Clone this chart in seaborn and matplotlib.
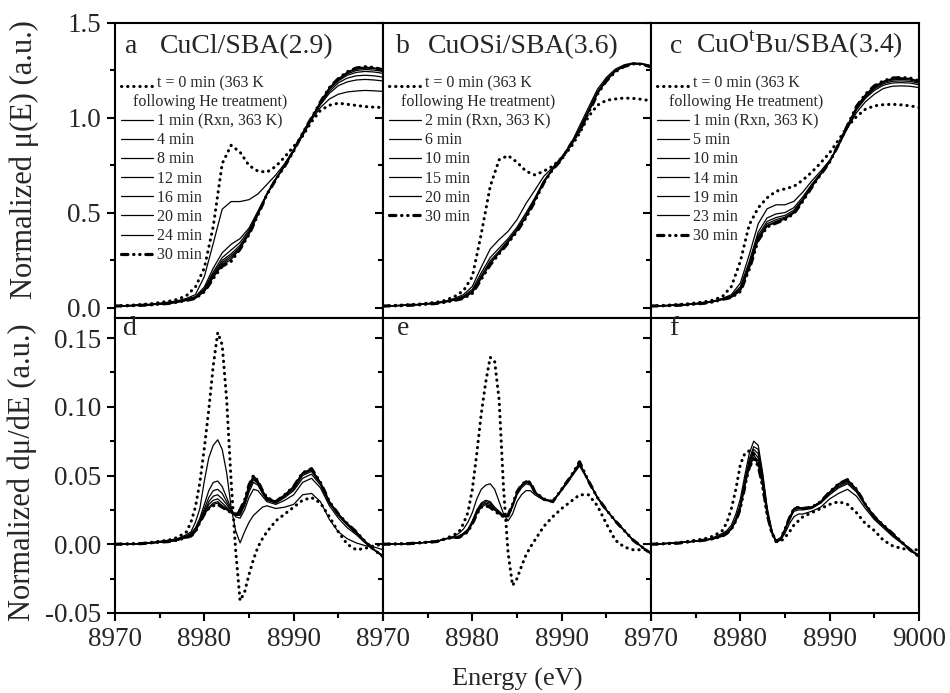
import numpy as np
import matplotlib.pyplot as plt
import seaborn as sns

# energy grids (eV)
E_top = [8970, 8972, 8974, 8976, 8977, 8978, 8979, 8980, 8981, 8982, 8983, 8984, 8985, 8986,
         8987, 8988, 8989, 8990, 8991, 8992, 8993, 8994, 8995, 8996, 8997, 8998, 8999, 9000]
E_der = [8970, 8973, 8976, 8977, 8978, 8978.5, 8979, 8979.5, 8980, 8980.5, 8981, 8981.5, 8982,
         8982.5, 8983, 8983.5, 8984, 8984.5, 8985, 8985.5, 8986, 8986.5, 8987, 8988, 8989, 8990,
         8991, 8992, 8993, 8994, 8995, 8996, 8997, 8998, 8999, 9000]

T0_LABEL = 't = 0 min (363 K\nfollowing He treatment)'
a_labels = [T0_LABEL, '1 min (Rxn, 363 K)', '4 min', '8 min', '12 min', '16 min', '20 min', '24 min', '30 min']
b_labels = [T0_LABEL, '2 min (Rxn, 363 K)', '6 min', '10 min', '15 min', '20 min', '30 min']
c_labels = [T0_LABEL, '1 min (Rxn, 363 K)', '5 min', '10 min', '14 min', '19 min', '23 min', '30 min']

# ---- panel a : CuCl/SBA, normalized mu(E)
a_mu_t0 = [0.010, 0.015, 0.022, 0.035, 0.045, 0.065, 0.110, 0.210, 0.430, 0.760, 0.856, 0.820, 0.750, 0.720,
           0.715, 0.745, 0.795, 0.850, 0.905, 0.980, 1.040, 1.067, 1.078, 1.072, 1.066, 1.060, 1.057, 1.055]
a_mu_1 = [0.010, 0.014, 0.020, 0.030, 0.038, 0.050, 0.070, 0.165, 0.340, 0.520, 0.560, 0.560, 0.570, 0.600,
          0.650, 0.700, 0.760, 0.835, 0.905, 0.990, 1.055, 1.100, 1.125, 1.137, 1.142, 1.145, 1.143, 1.140]
a_mu_4 = [0.010, 0.013, 0.018, 0.027, 0.034, 0.045, 0.060, 0.110, 0.210, 0.290, 0.335, 0.365, 0.420, 0.510,
          0.600, 0.680, 0.750, 0.830, 0.915, 0.995, 1.070, 1.130, 1.170, 1.190, 1.200, 1.203, 1.200, 1.195]
a_mu_8 = [0.010, 0.013, 0.018, 0.026, 0.033, 0.043, 0.056, 0.100, 0.190, 0.265, 0.305, 0.345, 0.410, 0.500,
          0.600, 0.680, 0.750, 0.830, 0.918, 1.000, 1.076, 1.140, 1.185, 1.210, 1.222, 1.225, 1.222, 1.215]
a_mu_12 = [0.010, 0.013, 0.017, 0.025, 0.032, 0.042, 0.054, 0.095, 0.180, 0.250, 0.285, 0.330, 0.400, 0.500,
           0.600, 0.680, 0.750, 0.828, 0.920, 1.000, 1.080, 1.150, 1.195, 1.225, 1.240, 1.245, 1.242, 1.235]
a_mu_16 = [0.010, 0.012, 0.017, 0.025, 0.031, 0.041, 0.053, 0.090, 0.172, 0.240, 0.275, 0.320, 0.395, 0.495,
           0.598, 0.678, 0.749, 0.827, 0.920, 1.000, 1.082, 1.155, 1.200, 1.232, 1.250, 1.255, 1.252, 1.245]
a_mu_20 = [0.010, 0.012, 0.017, 0.024, 0.031, 0.040, 0.052, 0.088, 0.165, 0.232, 0.265, 0.315, 0.390, 0.492,
           0.597, 0.677, 0.748, 0.826, 0.920, 1.000, 1.083, 1.158, 1.204, 1.238, 1.258, 1.262, 1.260, 1.250]
a_mu_24 = [0.010, 0.012, 0.016, 0.024, 0.030, 0.040, 0.051, 0.086, 0.160, 0.225, 0.255, 0.312, 0.388, 0.490,
           0.597, 0.676, 0.747, 0.826, 0.920, 1.000, 1.084, 1.160, 1.206, 1.242, 1.262, 1.268, 1.264, 1.252]
a_mu_30 = [0.010, 0.012, 0.016, 0.024, 0.030, 0.040, 0.050, 0.085, 0.155, 0.220, 0.245, 0.310, 0.386, 0.490,
           0.597, 0.676, 0.747, 0.826, 0.920, 1.000, 1.084, 1.160, 1.207, 1.243, 1.263, 1.270, 1.266, 1.253]

# ---- panel b : CuOSi/SBA
b_mu_t0 = [0.010, 0.015, 0.020, 0.030, 0.040, 0.060, 0.090, 0.165, 0.390, 0.640, 0.780, 0.802, 0.767, 0.720,
           0.700, 0.720, 0.746, 0.790, 0.843, 0.920, 1.007, 1.067, 1.093, 1.100, 1.105, 1.103, 1.098, 1.090]
b_mu_2 = [0.010, 0.014, 0.019, 0.028, 0.036, 0.050, 0.070, 0.113, 0.215, 0.310, 0.360, 0.403, 0.465, 0.549,
          0.620, 0.693, 0.740, 0.796, 0.860, 0.958, 1.055, 1.151, 1.213, 1.257, 1.280, 1.290, 1.287, 1.275]
b_mu_6 = [0.010, 0.013, 0.018, 0.027, 0.034, 0.046, 0.062, 0.098, 0.185, 0.265, 0.315, 0.365, 0.425, 0.500,
          0.580, 0.670, 0.733, 0.789, 0.860, 0.945, 1.040, 1.138, 1.204, 1.250, 1.276, 1.287, 1.285, 1.273]
b_mu_10 = [0.010, 0.013, 0.018, 0.026, 0.033, 0.044, 0.058, 0.090, 0.170, 0.248, 0.300, 0.355, 0.415, 0.488,
           0.572, 0.665, 0.731, 0.786, 0.860, 0.940, 1.035, 1.133, 1.200, 1.248, 1.274, 1.286, 1.284, 1.271]
b_mu_15 = [0.010, 0.013, 0.017, 0.026, 0.032, 0.042, 0.054, 0.084, 0.160, 0.238, 0.292, 0.348, 0.409, 0.480,
           0.567, 0.662, 0.730, 0.784, 0.860, 0.935, 1.031, 1.129, 1.198, 1.246, 1.273, 1.286, 1.284, 1.270]
b_mu_20 = [0.010, 0.012, 0.017, 0.025, 0.031, 0.041, 0.052, 0.080, 0.155, 0.232, 0.288, 0.345, 0.406, 0.477,
           0.564, 0.660, 0.729, 0.783, 0.860, 0.932, 1.029, 1.127, 1.196, 1.244, 1.272, 1.285, 1.283, 1.269]
b_mu_30 = [0.010, 0.012, 0.016, 0.024, 0.030, 0.040, 0.050, 0.077, 0.151, 0.227, 0.285, 0.342, 0.403, 0.474,
           0.562, 0.659, 0.729, 0.782, 0.860, 0.930, 1.028, 1.125, 1.195, 1.243, 1.271, 1.285, 1.283, 1.269]

# ---- panel c : CuOtBu/SBA
c_mu_t0 = [0.010, 0.015, 0.021, 0.032, 0.042, 0.060, 0.113, 0.245, 0.438, 0.527, 0.580, 0.614, 0.627, 0.640,
           0.673, 0.715, 0.764, 0.817, 0.884, 0.955, 1.007, 1.046, 1.064, 1.070, 1.072, 1.069, 1.064, 1.055]
c_mu_1 = [0.010, 0.014, 0.019, 0.029, 0.037, 0.050, 0.070, 0.131, 0.280, 0.443, 0.522, 0.543, 0.543, 0.561,
          0.610, 0.669, 0.720, 0.778, 0.855, 0.946, 1.028, 1.085, 1.125, 1.155, 1.167, 1.169, 1.167, 1.160]
c_mu_5 = [0.010, 0.013, 0.018, 0.027, 0.035, 0.048, 0.064, 0.112, 0.245, 0.400, 0.474, 0.495, 0.502, 0.528,
          0.585, 0.652, 0.710, 0.772, 0.857, 0.952, 1.042, 1.103, 1.145, 1.172, 1.184, 1.186, 1.184, 1.175]
c_mu_10 = [0.010, 0.013, 0.018, 0.027, 0.034, 0.047, 0.061, 0.104, 0.230, 0.383, 0.455, 0.476, 0.487, 0.515,
           0.575, 0.645, 0.707, 0.770, 0.858, 0.955, 1.048, 1.110, 1.153, 1.180, 1.193, 1.195, 1.193, 1.183]
c_mu_14 = [0.010, 0.013, 0.017, 0.026, 0.034, 0.046, 0.059, 0.097, 0.220, 0.372, 0.443, 0.465, 0.478, 0.507,
           0.569, 0.641, 0.705, 0.769, 0.859, 0.957, 1.052, 1.116, 1.159, 1.186, 1.200, 1.203, 1.200, 1.188]
c_mu_19 = [0.010, 0.012, 0.017, 0.026, 0.033, 0.046, 0.057, 0.092, 0.212, 0.364, 0.434, 0.456, 0.472, 0.502,
           0.566, 0.639, 0.704, 0.768, 0.860, 0.959, 1.056, 1.120, 1.164, 1.191, 1.205, 1.208, 1.205, 1.191]
c_mu_23 = [0.010, 0.012, 0.017, 0.025, 0.033, 0.045, 0.056, 0.089, 0.208, 0.360, 0.430, 0.451, 0.468, 0.499,
           0.564, 0.637, 0.703, 0.768, 0.860, 0.960, 1.058, 1.123, 1.167, 1.193, 1.208, 1.211, 1.208, 1.193]
c_mu_30 = [0.010, 0.012, 0.016, 0.025, 0.032, 0.045, 0.055, 0.086, 0.204, 0.356, 0.426, 0.447, 0.465, 0.497,
           0.562, 0.636, 0.703, 0.768, 0.861, 0.961, 1.060, 1.125, 1.169, 1.195, 1.210, 1.213, 1.210, 1.195]

# ---- panel d : CuCl/SBA, derivative
d_der_t0 = [0.000, 0.0005, 0.003, 0.005, 0.009, 0.016, 0.027, 0.045, 0.070, 0.098, 0.130, 0.154, 0.145, 0.105,
            0.046, -0.004, -0.041, -0.035, -0.022, -0.011, -0.002, 0.004, 0.009, 0.017, 0.022, 0.027, 0.032,
            0.034, 0.030, 0.020, 0.009, 0.000, -0.004, -0.003, -0.001, 0.000]
d_der_1 = [0.000, 0.0005, 0.003, 0.004, 0.007, 0.009, 0.016, 0.026, 0.046, 0.063, 0.072, 0.076, 0.069, 0.052,
           0.027, 0.010, 0.001, 0.009, 0.016, 0.021, 0.024, 0.027, 0.028, 0.026, 0.027, 0.029, 0.036, 0.037,
           0.031, 0.018, 0.009, 0.004, 0.001, -0.001, -0.002, -0.004]
d_der_4 = [0.000, 0.0005, 0.002, 0.004, 0.006, 0.008, 0.012, 0.019, 0.029, 0.039, 0.045, 0.046, 0.042, 0.034,
           0.026, 0.020, 0.019, 0.025, 0.034, 0.040, 0.039, 0.035, 0.031, 0.029, 0.032, 0.036, 0.045, 0.048,
           0.041, 0.028, 0.019, 0.012, 0.007, 0.001, -0.004, -0.008]
d_der_8 = [0.000, 0.0005, 0.002, 0.004, 0.006, 0.007, 0.011, 0.017, 0.026, 0.034, 0.039, 0.040, 0.037, 0.031,
           0.025, 0.021, 0.021, 0.028, 0.038, 0.045, 0.043, 0.037, 0.032, 0.030, 0.034, 0.039, 0.048, 0.051,
           0.043, 0.030, 0.021, 0.014, 0.008, 0.002, -0.004, -0.009]
d_der_12 = [0.000, 0.0005, 0.002, 0.003, 0.005, 0.007, 0.010, 0.016, 0.024, 0.031, 0.035, 0.036, 0.033, 0.029,
            0.024, 0.021, 0.022, 0.029, 0.040, 0.047, 0.044, 0.038, 0.033, 0.030, 0.035, 0.040, 0.050, 0.053,
            0.044, 0.030, 0.021, 0.014, 0.008, 0.002, -0.004, -0.009]
d_der_16 = [0.000, 0.0005, 0.002, 0.003, 0.005, 0.006, 0.010, 0.016, 0.023, 0.029, 0.032, 0.033, 0.030, 0.027,
            0.023, 0.021, 0.023, 0.030, 0.041, 0.048, 0.045, 0.038, 0.033, 0.031, 0.035, 0.041, 0.051, 0.054,
            0.045, 0.031, 0.022, 0.015, 0.009, 0.002, -0.004, -0.009]
d_der_20 = [0.000, 0.0005, 0.002, 0.003, 0.005, 0.006, 0.009, 0.016, 0.022, 0.027, 0.030, 0.031, 0.028, 0.026,
            0.023, 0.021, 0.024, 0.031, 0.042, 0.049, 0.046, 0.039, 0.034, 0.031, 0.036, 0.042, 0.052, 0.054,
            0.045, 0.031, 0.022, 0.015, 0.009, 0.002, -0.004, -0.009]
d_der_24 = [0.000, 0.0005, 0.002, 0.003, 0.005, 0.006, 0.009, 0.016, 0.022, 0.026, 0.029, 0.030, 0.028, 0.025,
            0.023, 0.022, 0.025, 0.032, 0.043, 0.050, 0.046, 0.039, 0.034, 0.031, 0.036, 0.042, 0.052, 0.055,
            0.045, 0.031, 0.022, 0.015, 0.009, 0.002, -0.004, -0.009]
d_der_30 = [0.000, 0.0005, 0.002, 0.003, 0.005, 0.006, 0.009, 0.016, 0.022, 0.026, 0.028, 0.029, 0.027, 0.025,
            0.023, 0.022, 0.025, 0.032, 0.043, 0.050, 0.046, 0.039, 0.034, 0.031, 0.036, 0.042, 0.052, 0.055,
            0.045, 0.031, 0.022, 0.015, 0.009, 0.002, -0.004, -0.009]

# ---- panel e : CuOSi/SBA, derivative
e_der_t0 = [0.000, 0.0005, 0.002, 0.004, 0.007, 0.009, 0.015, 0.023, 0.040, 0.066, 0.095, 0.118, 0.136, 0.133,
            0.105, 0.040, -0.006, -0.030, -0.025, -0.016, -0.008, -0.002, 0.003, 0.013, 0.020, 0.026, 0.031,
            0.036, 0.036, 0.028, 0.015, 0.003, -0.002, -0.004, -0.004, -0.004]
e_der_2 = [0.000, 0.0005, 0.002, 0.004, 0.006, 0.008, 0.011, 0.016, 0.023, 0.033, 0.040, 0.043, 0.044, 0.040,
           0.031, 0.022, 0.017, 0.022, 0.031, 0.036, 0.039, 0.039, 0.036, 0.032, 0.031, 0.039, 0.048, 0.057,
           0.046, 0.034, 0.025, 0.017, 0.010, 0.003, -0.002, -0.006]
e_der_6 = [0.000, 0.0005, 0.002, 0.004, 0.005, 0.006, 0.008, 0.011, 0.017, 0.025, 0.030, 0.032, 0.031, 0.027,
           0.024, 0.021, 0.020, 0.027, 0.036, 0.041, 0.044, 0.043, 0.037, 0.033, 0.031, 0.040, 0.049, 0.058,
           0.046, 0.034, 0.025, 0.017, 0.010, 0.003, -0.002, -0.007]
e_der_10 = [0.000, 0.0005, 0.002, 0.004, 0.005, 0.005, 0.008, 0.010, 0.016, 0.024, 0.029, 0.031, 0.030, 0.026,
            0.023, 0.021, 0.020, 0.028, 0.037, 0.042, 0.045, 0.044, 0.038, 0.033, 0.031, 0.040, 0.049, 0.059,
            0.046, 0.034, 0.025, 0.017, 0.010, 0.003, -0.002, -0.007]
e_der_15 = [0.000, 0.0005, 0.002, 0.004, 0.005, 0.005, 0.007, 0.010, 0.016, 0.023, 0.028, 0.030, 0.029, 0.025,
            0.023, 0.020, 0.021, 0.028, 0.037, 0.043, 0.046, 0.045, 0.038, 0.033, 0.031, 0.040, 0.049, 0.059,
            0.046, 0.034, 0.025, 0.017, 0.010, 0.003, -0.002, -0.007]
e_der_20 = [0.000, 0.0005, 0.002, 0.004, 0.005, 0.005, 0.007, 0.009, 0.015, 0.022, 0.027, 0.029, 0.028, 0.025,
            0.022, 0.020, 0.021, 0.029, 0.038, 0.043, 0.046, 0.045, 0.038, 0.033, 0.031, 0.040, 0.049, 0.059,
            0.046, 0.034, 0.025, 0.017, 0.010, 0.003, -0.002, -0.007]
e_der_30 = [0.000, 0.0005, 0.002, 0.004, 0.005, 0.005, 0.007, 0.009, 0.015, 0.022, 0.027, 0.028, 0.027, 0.024,
            0.022, 0.020, 0.021, 0.029, 0.038, 0.043, 0.046, 0.045, 0.038, 0.033, 0.031, 0.040, 0.049, 0.060,
            0.046, 0.034, 0.025, 0.017, 0.010, 0.003, -0.002, -0.007]

# ---- panel f : CuOtBu/SBA, derivative
f_der_t0 = [0.000, 0.001, 0.004, 0.006, 0.010, 0.016, 0.026, 0.040, 0.058, 0.066, 0.068, 0.066, 0.058, 0.042,
            0.022, 0.009, 0.002, 0.002, 0.005, 0.009, 0.014, 0.017, 0.020, 0.023, 0.026, 0.029, 0.031, 0.029,
            0.023, 0.015, 0.010, 0.003, -0.001, -0.003, -0.004, -0.004]
f_der_1 = [0.000, 0.001, 0.003, 0.005, 0.008, 0.010, 0.014, 0.022, 0.033, 0.050, 0.066, 0.075, 0.072, 0.052,
           0.027, 0.010, 0.002, 0.003, 0.008, 0.015, 0.020, 0.022, 0.022, 0.024, 0.027, 0.033, 0.037, 0.040,
           0.035, 0.026, 0.018, 0.012, 0.006, 0.001, -0.004, -0.008]
f_der_5 = [0.000, 0.001, 0.003, 0.004, 0.007, 0.009, 0.012, 0.019, 0.029, 0.046, 0.062, 0.071, 0.069, 0.050,
           0.025, 0.010, 0.002, 0.004, 0.010, 0.018, 0.024, 0.025, 0.025, 0.026, 0.030, 0.036, 0.041, 0.044,
           0.038, 0.028, 0.019, 0.013, 0.007, 0.002, -0.004, -0.008]
f_der_10 = [0.000, 0.001, 0.003, 0.004, 0.007, 0.008, 0.012, 0.018, 0.028, 0.045, 0.060, 0.069, 0.066, 0.048,
            0.024, 0.009, 0.002, 0.004, 0.011, 0.019, 0.025, 0.026, 0.026, 0.027, 0.030, 0.037, 0.042, 0.045,
            0.039, 0.029, 0.020, 0.014, 0.008, 0.002, -0.004, -0.009]
f_der_14 = [0.000, 0.001, 0.003, 0.004, 0.006, 0.008, 0.011, 0.018, 0.027, 0.044, 0.059, 0.067, 0.063, 0.046,
            0.023, 0.009, 0.002, 0.004, 0.011, 0.019, 0.026, 0.027, 0.026, 0.027, 0.031, 0.038, 0.043, 0.046,
            0.040, 0.029, 0.020, 0.014, 0.008, 0.002, -0.004, -0.009]
f_der_19 = [0.000, 0.001, 0.003, 0.004, 0.006, 0.008, 0.011, 0.017, 0.026, 0.043, 0.057, 0.065, 0.060, 0.045,
            0.022, 0.009, 0.002, 0.004, 0.011, 0.019, 0.026, 0.027, 0.026, 0.027, 0.031, 0.038, 0.044, 0.047,
            0.040, 0.029, 0.020, 0.014, 0.008, 0.002, -0.004, -0.009]
f_der_23 = [0.000, 0.001, 0.003, 0.004, 0.006, 0.008, 0.011, 0.017, 0.026, 0.042, 0.056, 0.063, 0.058, 0.043,
            0.022, 0.009, 0.002, 0.004, 0.011, 0.019, 0.026, 0.027, 0.026, 0.027, 0.031, 0.038, 0.044, 0.047,
            0.040, 0.029, 0.020, 0.014, 0.008, 0.002, -0.004, -0.009]
f_der_30 = [0.000, 0.0008, 0.003, 0.004, 0.006, 0.008, 0.011, 0.017, 0.026, 0.042, 0.056, 0.062, 0.057, 0.043,
            0.022, 0.009, 0.002, 0.004, 0.011, 0.019, 0.026, 0.027, 0.026, 0.027, 0.031, 0.038, 0.044, 0.047,
            0.040, 0.029, 0.020, 0.014, 0.008, 0.002, -0.004, -0.009]

top_sets = [
    (a_labels, [a_mu_t0, a_mu_1, a_mu_4, a_mu_8, a_mu_12, a_mu_16, a_mu_20, a_mu_24, a_mu_30]),
    (b_labels, [b_mu_t0, b_mu_2, b_mu_6, b_mu_10, b_mu_15, b_mu_20, b_mu_30]),
    (c_labels, [c_mu_t0, c_mu_1, c_mu_5, c_mu_10, c_mu_14, c_mu_19, c_mu_23, c_mu_30]),
]
bottom_sets = [
    [d_der_t0, d_der_1, d_der_4, d_der_8, d_der_12, d_der_16, d_der_20, d_der_24, d_der_30],
    [e_der_t0, e_der_2, e_der_6, e_der_10, e_der_15, e_der_20, e_der_30],
    [f_der_t0, f_der_1, f_der_5, f_der_10, f_der_14, f_der_19, f_der_23, f_der_30],
]
top_letters = ['a', 'b', 'c']
top_names = ['CuCl/SBA(2.9)', 'CuOSi/SBA(3.6)', r'CuO$^{\mathrm{t}}$Bu/SBA(3.4)']
letter_x = [0.037, 0.048, 0.070]
bottom_letters = ['d', 'e', 'f']
bottom_letter_x = [0.030, 0.052, 0.066]

sns.set_theme(style='ticks')
plt.rcParams['font.family'] = ['Liberation Serif', 'DejaVu Serif']
plt.rcParams['mathtext.fontset'] = 'custom'
plt.rcParams['mathtext.rm'] = 'Liberation Serif'
plt.rcParams['axes.unicode_minus'] = False
plt.rcParams['axes.linewidth'] = 1.5
plt.rcParams['axes.edgecolor'] = 'black'

DOT = (0, (0.1, 1.9))
DASHDOT = (0, (2.0, 1.8, 0.1, 1.8, 0.1, 1.8))


def draw_curves(ax, E, series):
    n = len(series)
    for i, y in enumerate(series):
        if i == 0:
            sns.lineplot(x=E, y=y, ax=ax, color='black', lw=2.2, ls=DOT, dash_capstyle='round')
        elif i == n - 1:
            sns.lineplot(x=E, y=y, ax=ax, color='black', lw=2.3, ls=DASHDOT, dash_capstyle='round')
        else:
            sns.lineplot(x=E, y=y, ax=ax, color='black', lw=0.9)


fig, axes = plt.subplots(2, 3, figsize=(9.5, 6.93), dpi=100)
fig.subplots_adjust(left=115 / 950, right=919 / 950, top=1 - 23 / 693, bottom=1 - 613 / 693,
                    wspace=0, hspace=0)

for j in range(3):
    labels, series = top_sets[j]
    ax = axes[0, j]
    draw_curves(ax, E_top, series)
    ax.set_xlim(8970, 9000)
    ax.set_ylim(-0.053, 1.5)
    ax.set_yticks([0.0, 0.5, 1.0, 1.5])
    ax.set_yticks([0.25, 0.75, 1.25], minor=True)
    ax.set_yticklabels(['0.0', '0.5', '1.0', '1.5'])
    ax.tick_params(axis='x', which='both', bottom=False, labelbottom=False)
    ax.set_xlabel('')
    ax.set_ylabel('')

    ax.text(letter_x[j], 0.898, top_letters[j], transform=ax.transAxes, fontsize=20, va='baseline')
    ax.text(0.167, 0.898, top_names[j], transform=ax.transAxes, fontsize=20, va='baseline')

    leg = ax.legend(ax.get_lines(), labels, loc='upper left', bbox_to_anchor=(0.022, 0.822),
                    frameon=False, fontsize=11.5, handlelength=2.0, handletextpad=0.25,
                    labelspacing=0.2, borderpad=0, borderaxespad=0)
    t0 = leg.get_texts()[0]
    t0.set_multialignment('center')
    t0.set_x(-24)
    h0 = leg.legend_handles[0]
    h0.set_ydata(np.asarray(h0.get_ydata()) + 5)

    ax = axes[1, j]
    draw_curves(ax, E_der, bottom_sets[j])
    ax.set_xlim(8970, 9000)
    ax.set_ylim(-0.05, 0.1646)
    ax.set_yticks([-0.05, 0.0, 0.05, 0.10, 0.15])
    ax.set_yticks([-0.025, 0.025, 0.075, 0.125], minor=True)
    ax.set_yticklabels(['-0.05', '0.00', '0.05', '0.10', '0.15'])
    ax.set_xticks([8970, 8980, 8990, 9000])
    ax.set_xticks([8975, 8985, 8995], minor=True)
    if j < 2:
        ax.set_xticklabels(['8970', '8980', '8990', ''])
    else:
        ax.set_xticklabels(['8970', '8980', '8990', '9000'])
    ax.set_xlabel('')
    ax.set_ylabel('')
    ax.text(bottom_letter_x[j], 0.942, bottom_letters[j], transform=ax.transAxes, fontsize=20,
            va='baseline')

for ax in axes.flat:
    ax.tick_params(which='both', direction='out', top=False, right=False, color='black',
                   width=1.5, labelsize=19.5, pad=4)
    ax.tick_params(which='major', length=6)
    ax.tick_params(which='minor', length=3.5)
    for s in ax.spines.values():
        s.set_linewidth(1.5)
        s.set_color('black')
for ax in axes[:, 1:].flat:
    ax.tick_params(axis='y', which='both', labelleft=False)

fig.text(24 / 950, 1 - 160 / 693, 'Normalized μ(E) (a.u.)', rotation=90, ha='center', va='center',
         fontsize=22)
fig.text(22 / 950, 1 - 472 / 693, 'Normalized dμ/dE (a.u.)', rotation=90, ha='center', va='center',
         fontsize=22)
fig.text(517 / 950, 1 - 679 / 693, 'Energy (eV)', ha='center', va='center', fontsize=19)

fig.savefig('out.png', dpi=100)
